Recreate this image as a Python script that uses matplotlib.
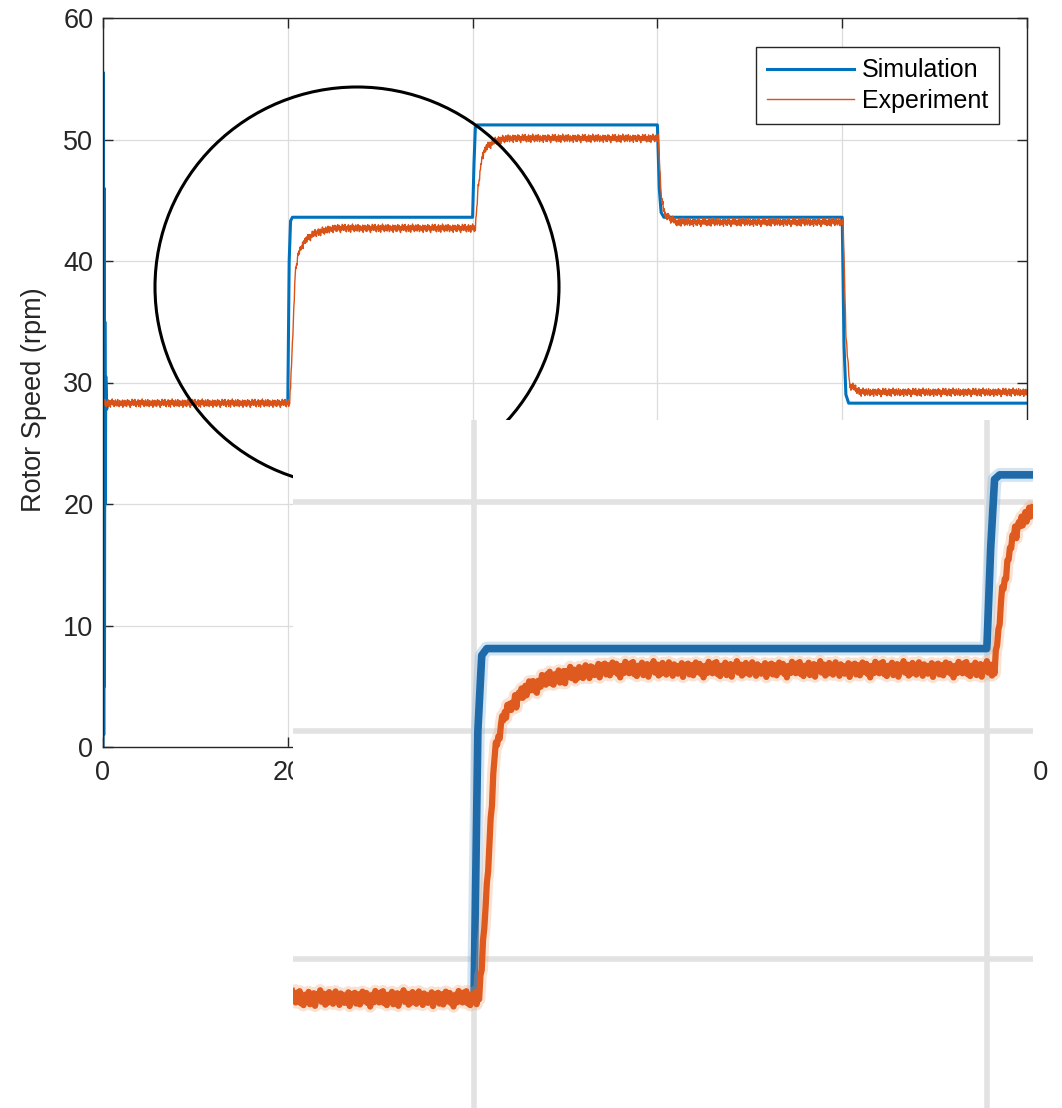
import numpy as np
import matplotlib.pyplot as plt
from matplotlib.patches import Ellipse

plt.rcParams['font.family'] = ['Liberation Sans', 'DejaVu Sans']

# Simulation: key points (time s, speed rpm)
sim_t = [0, 0.04, 0.08, 0.12, 0.16, 0.2, 0.25, 0.3, 0.4, 0.5,
         20.0, 20.15, 20.3, 20.5, 40.0, 40.15, 40.3, 40.5,
         60.0, 60.2, 60.4, 60.7, 80.0, 80.2, 80.4, 80.7, 100]
sim_v = [0, 55.5, 1.0, 46.0, 5.0, 35.0, 20.0, 30.5, 27.8, 28.3,
         28.3, 40.0, 43.3, 43.6, 43.6, 48.0, 51.0, 51.2,
         51.2, 46.0, 44.0, 43.6, 43.6, 33.0, 29.0, 28.3, 28.3]

# Experiment: mean trace
exp_t = [0, 20.2, 20.5, 20.8, 21.2, 22.0, 23.0, 25.0,
         40.3, 40.6, 41.0, 41.5, 42.5, 44.0,
         60.1, 60.4, 60.8, 62.0,
         80.1, 80.4, 80.8, 82.0, 100]
exp_v = [28.3, 28.3, 33.0, 39.0, 40.8, 41.8, 42.3, 42.7,
         42.7, 46.0, 48.5, 49.4, 49.9, 50.1,
         50.1, 45.5, 43.8, 43.2,
         43.2, 34.0, 29.8, 29.2, 29.2]
# measured ripple on the trace (rpm), one value every 0.05 s
ripple = [0.12, -0.18, 0.25, -0.05, 0.31, -0.22, 0.08, -0.30, 0.15, 0.02,
          -0.12, 0.28, -0.26, 0.10, -0.04, 0.22, -0.33, 0.18, -0.08, 0.05,
          0.35, -0.15, -0.02, 0.20, -0.28, 0.12, -0.19, 0.27, -0.06, 0.09,
          -0.24, 0.16, 0.30, -0.11, 0.03, -0.29, 0.21, -0.07, 0.14, -0.20,
          0.06, -0.16, 0.26, -0.34, 0.11, 0.19, -0.09, 0.24, -0.23, 0.01,
          0.17, -0.27, 0.04, 0.29, -0.13, -0.01, 0.23, -0.21, 0.10, -0.36,
          0.14, 0.07, -0.17, 0.32, -0.10]

blue = '#0072bd'
orange = '#d95319'

tt = np.arange(0, 100.001, 0.05)
exp_dense = np.interp(tt, exp_t, exp_v) + np.resize(ripple, len(tt))

fig = plt.figure(figsize=(10.62, 11.08), dpi=100)
ax = fig.add_axes([103/1062, 1-747/1108, 924/1062, 729/1108])
ax.set_zorder(0)
ax.plot(sim_t, sim_v, color=blue, lw=2.2, label='Simulation')
ax.plot(tt, exp_dense, color=orange, lw=1.0, label='Experiment')
ax.set_xlim(0, 100)
ax.set_ylim(0, 60)
ax.set_xticks([0, 20, 40, 60, 80, 100])
ax.set_yticks([0, 10, 20, 30, 40, 50, 60])
ax.grid(True, color='#dcdcdc', lw=0.9)
ax.tick_params(direction='in', length=7, width=1, top=True, right=True,
               labelsize=19.5, labelcolor='#262626', color='#262626')
ax.tick_params(axis='x', pad=9)
ax.tick_params(axis='y', pad=7)
for s in ax.spines.values():
    s.set_color('#262626')
    s.set_linewidth(1)
ax.set_ylabel('Rotor Speed (rpm)', fontsize=19.5, color='#262626')
ax.yaxis.set_label_coords(-0.061, 0.477)
leg = ax.legend(loc='upper right', bbox_to_anchor=(0.970, 0.960),
                borderaxespad=0, fontsize=18, handlelength=3.5,
                fancybox=False, framealpha=1, edgecolor='#262626',
                borderpad=0.45, labelspacing=0.25, handletextpad=0.3)
leg.get_frame().set_linewidth(1)

circle = Ellipse((357/1062, 1-287/1108), 404/1062, 400/1108,
                 transform=fig.transFigure, fill=False, lw=2.2,
                 ec='black', zorder=1)
fig.add_artist(circle)

# zoomed view
ins = fig.add_axes([293/1062, 0, 740/1062, 1-420/1108])
ins.set_zorder(2)
ins.set_facecolor('white')
ins.set_xlim(12.94, 41.8)
ins.set_ylim(23.5, 53.6)
ins.set_xticks([20, 40])
ins.set_yticks([30, 40, 50])
ins.tick_params(length=0, labelbottom=False, labelleft=False)
ins.grid(True, color='#e2e2e2', lw=4)
for s in ins.spines.values():
    s.set_visible(False)
ins.plot(sim_t, sim_v, color='#7fb3dc', lw=10, alpha=0.35, solid_capstyle='round')
ins.plot(sim_t, sim_v, color='#1f6aa8', lw=5.5, solid_capstyle='round')
ins.plot(tt, exp_dense, color='#f0a070', lw=9, alpha=0.3)
ins.plot(tt, exp_dense, color='#de5a1e', lw=4.5)

fig.savefig('out.png', dpi=100)
